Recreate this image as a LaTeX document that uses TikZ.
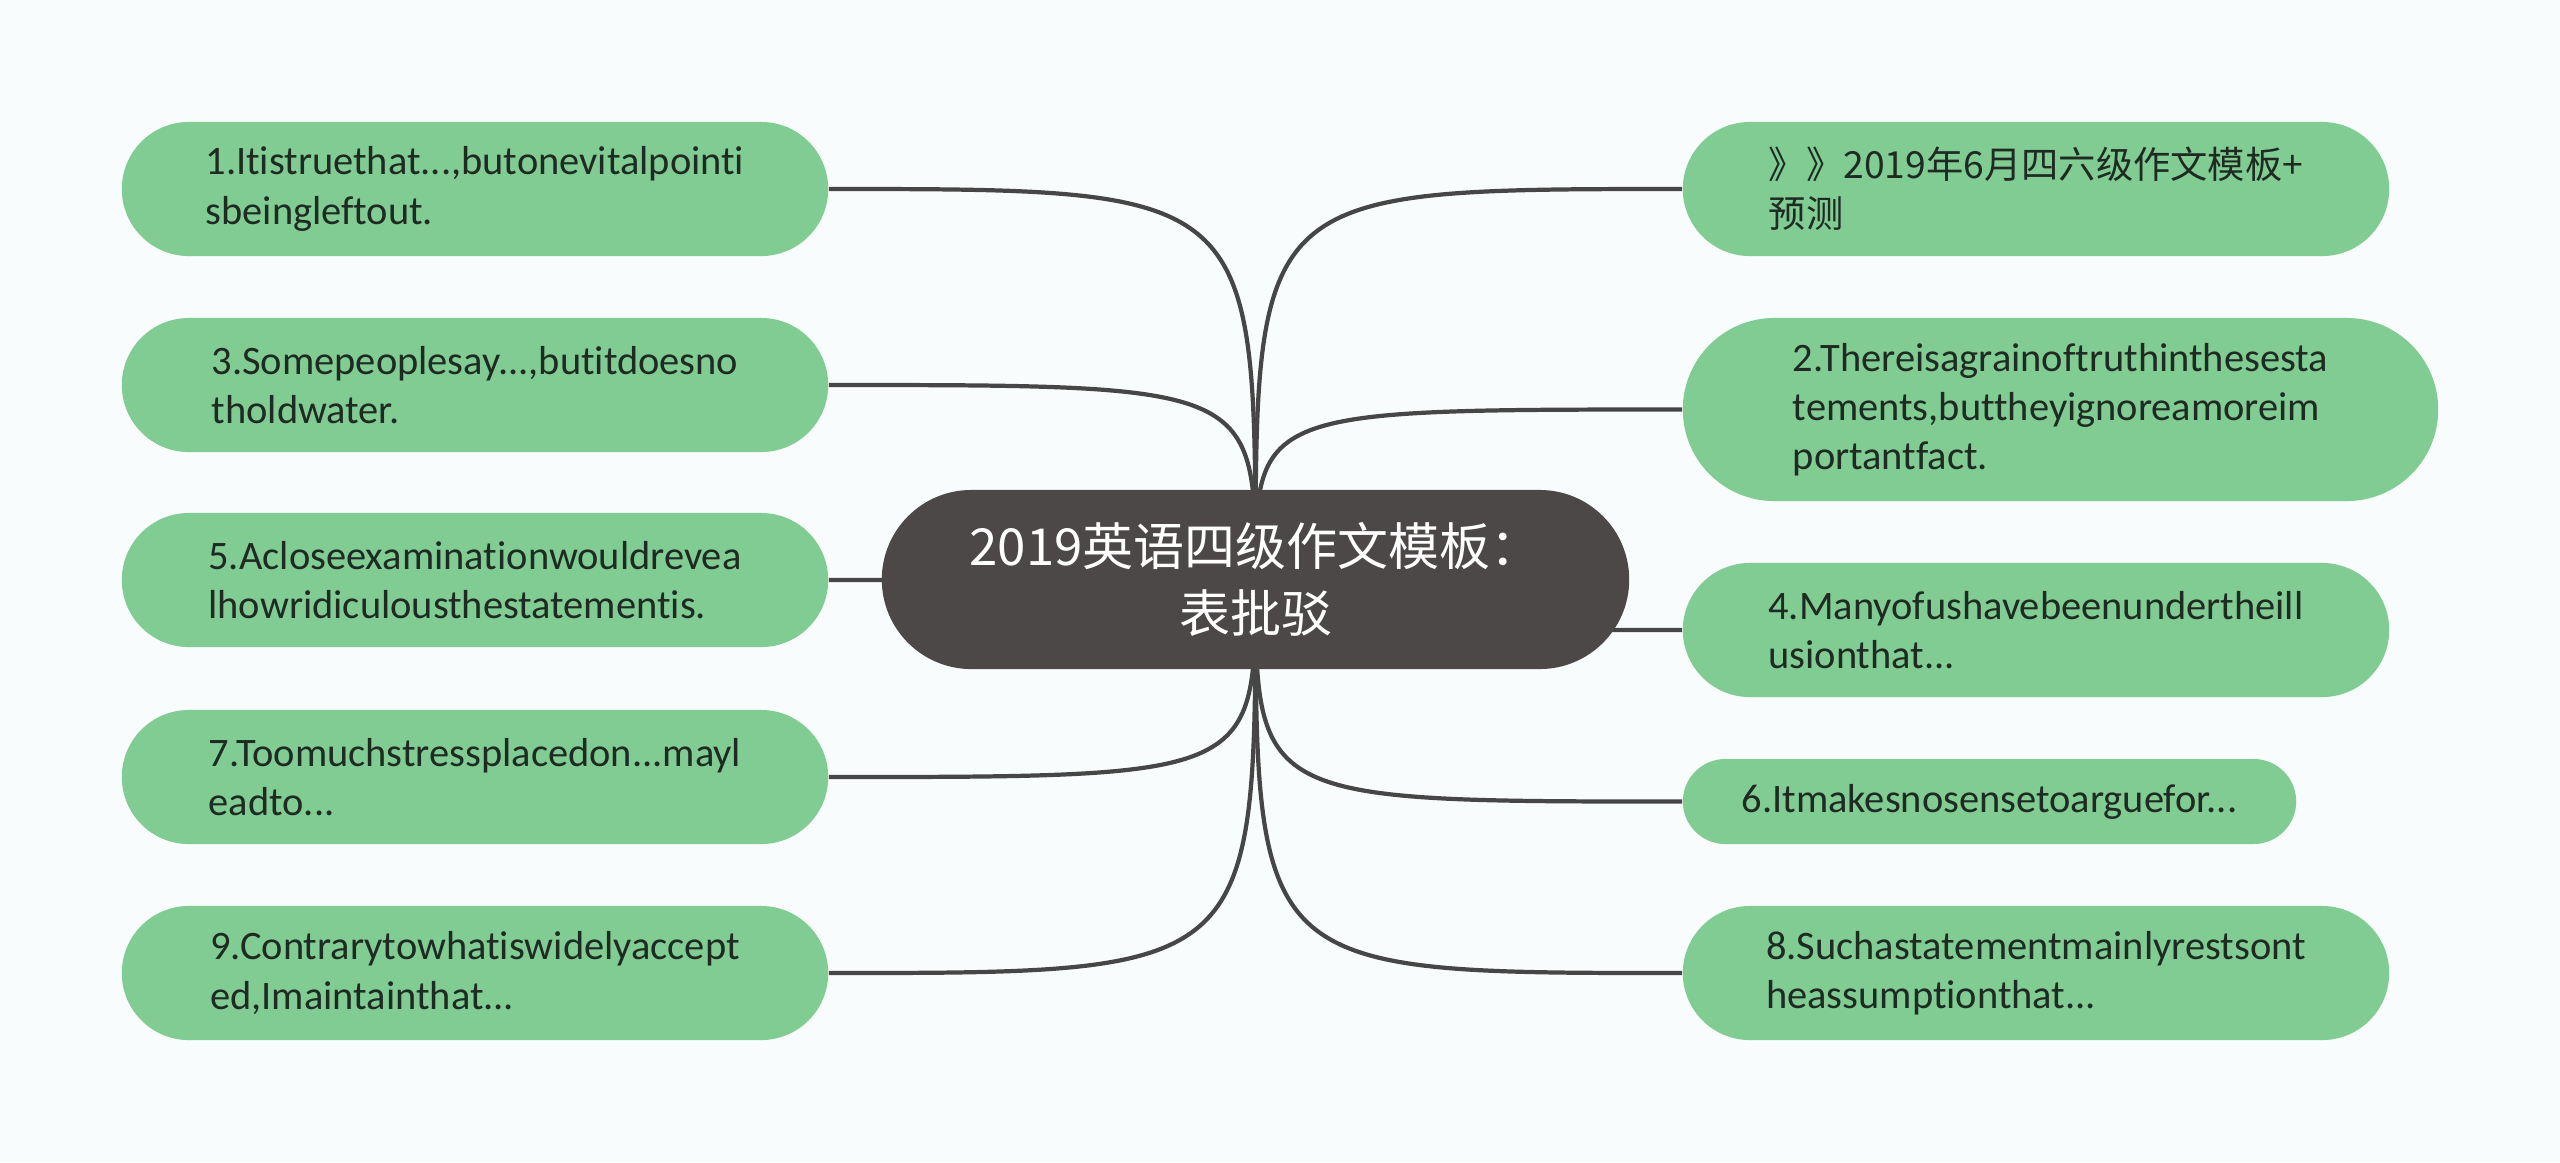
\documentclass[tikz,border=0pt]{standalone}
\usepackage{fontspec}
\setmainfont{Carlito}[Ligatures=NoCommon]
\newfontfamily\cjk{Noto Sans CJK SC}
\definecolor{MapBg}{RGB}{248,252,252}
\definecolor{MapGreen}{RGB}{128,204,146}
\definecolor{MapRoot}{RGB}{77,72,72}
\definecolor{MapInk}{RGB}{30,42,34}
\definecolor{MapLine}{RGB}{70,70,70}
\usepackage{tikz}
\usetikzlibrary{
    backgrounds,
}

\begin{document}
\begin{tikzpicture}[x=0.01cm, y=-0.01cm,
    leaf/.style={fill=MapGreen, text=MapInk, align=left, inner sep=0pt,
        minimum width=7.06cm, minimum height=1.34cm, rounded corners=0.67cm,
        font=\fontsize{11.5}{14}\selectfont},
    topic/.style={fill=MapRoot, text=white, align=center, inner sep=0pt,
        minimum width=7.47cm, minimum height=1.79cm, rounded corners=0.895cm,
        font=\cjk\fontsize{14.5}{19}\selectfont},
    link/.style={draw=MapLine, line width=1.2pt}]
        \useasboundingbox (0,0) rectangle (2560,1162);
        \node[topic] (root) at (1255.5, 579.5) {2019英语四级作文模板：\\表批驳};
        \node[leaf] (a1) at (475, 189) {1.Itistruethat...,butonevitalpointi\\sbeingleftout.};
        \node[leaf] (a3) at (475, 385) {3.Somepeoplesay...,butitdoesno\\tholdwater.};
        \node[leaf] (a5) at (475, 580) {5.Acloseexaminationwouldrevea\\lhowridiculousthestatementis.};
        \node[leaf] (a7) at (475, 777) {7.Toomuchstressplacedon...mayl\\eadto...};
        \node[leaf] (a9) at (475, 973) {9.Contrarytowhatiswidelyaccept\\ed,Imaintainthat...};
        \node[leaf, font=\cjk\fontsize{10.6}{14}\selectfont] (b0) at (2036, 189) {》》2019年6月四六级作文模板+\\预测};
        \node[leaf, minimum width=7.55cm, minimum height=1.83cm, rounded corners=0.915cm] (b2) at (2060.5, 409.5) {2.Thereisagrainoftruthinthesesta\\tements,buttheyignoreamoreim\\portantfact.};
        \node[leaf] (b4) at (2036, 630) {4.Manyofushavebeenundertheill\\usionthat...};
        \node[leaf, minimum width=6.13cm, minimum height=0.85cm, rounded corners=0.425cm] (b6) at (1989.5, 801.5) {6.Itmakesnosensetoarguefor...};
        \node[leaf] (b8) at (2036, 973) {8.Suchastatementmainlyrestsont\\heassumptionthat...};
        \begin{scope}[on background layer]
            \fill[MapBg] (0,0) rectangle (2560,1162);
            \foreach \n in {a1,a3,a5,a7,a9}
                \draw[link] (root.center) .. controls (root.center |- \n.east) .. (\n.east);
            \foreach \n in {b0,b2,b4,b6,b8}
                \draw[link] (root.center) .. controls (root.center |- \n.west) .. (\n.west);
        \end{scope}
    \end{tikzpicture}
\end{document}
